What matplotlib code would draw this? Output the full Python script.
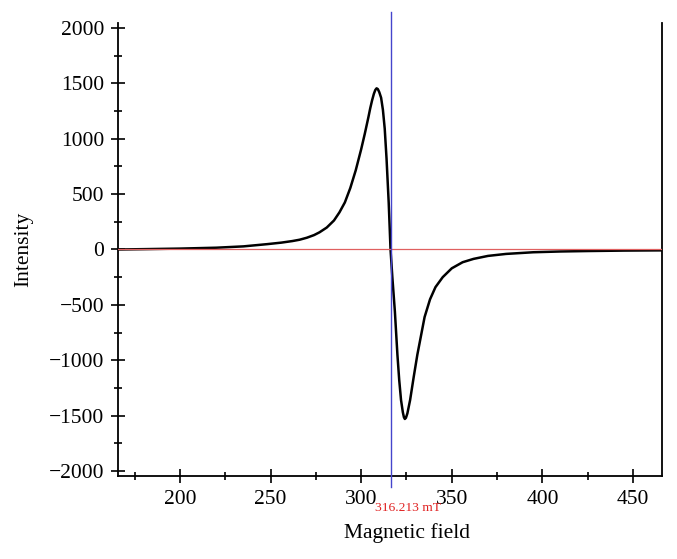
import numpy as np
import matplotlib
matplotlib.use('Agg')
import matplotlib.pyplot as plt
from matplotlib.ticker import MultipleLocator

# EPR spectrum, values
field = [166, 180, 200, 220, 235, 248, 256, 262, 266, 270, 274, 277, 281, 285,
         288, 291, 294, 297, 300, 302, 304, 305, 306, 307, 307.8, 308.5, 309.2,
         310, 311, 312, 313, 314, 315.2, 316.2, 317.2, 318.6, 320, 321, 322, 323,
         323.6, 324.1, 324.7, 325.5, 327, 329, 331, 333, 335, 338, 341, 345,
         350, 356, 362, 370, 380, 395, 410, 425, 445, 466]
intensity = [0, 3, 8, 16, 28, 48, 62, 76, 88, 106, 130, 155, 198, 262,
             335, 425, 555, 715, 905, 1045, 1195, 1275, 1345, 1405, 1440, 1455, 1448,
             1420, 1370, 1260, 1090, 820, 420, 0, -250, -560, -950, -1180, -1360, -1470,
             -1515, -1530, -1520, -1480, -1360, -1150, -950, -780, -610, -450, -340, -250,
             -170, -115, -85, -58, -40, -25, -18, -14, -10, -8]
center_field = 316.213
center_label = '316.213 mT'
x_ticks = [200, 250, 300, 350, 400, 450]
y_ticks = [-2000, -1500, -1000, -500, 0, 500, 1000, 1500, 2000]

plt.rcParams['font.family'] = ['Liberation Serif', 'DejaVu Serif']

fig = plt.figure(figsize=(6.77, 5.59), dpi=100)
ax = fig.add_axes([0.1743, 0.1485, 0.8035, 0.8104])

ax.plot(field, intensity, color='black', lw=1.8, zorder=3,
        solid_joinstyle='round')
ax.axhline(0, color='#e06060', lw=0.9, zorder=4)
ax.axvline(center_field, ymin=-0.024, ymax=1.024, color='#4545cc', lw=1.0,
           clip_on=False, zorder=5)

ax.set_xlim(165.8, 466)
ax.set_ylim(-2045, 2045)
ax.set_xticks(x_ticks)
ax.set_yticks(y_ticks)
ax.xaxis.set_minor_locator(MultipleLocator(25))
ax.yaxis.set_minor_locator(MultipleLocator(250))

ax.spines['top'].set_visible(False)
for s in ['left', 'bottom', 'right']:
    ax.spines[s].set_linewidth(1.3)
ax.tick_params(which='major', direction='inout', length=10, width=1.2,
               labelsize=15.5, pad=5, top=False, right=False)
ax.tick_params(which='minor', direction='inout', length=5.5, width=1.2,
               top=False, right=False)

ax.set_xlabel('Magnetic field', fontsize=15.5)
ax.xaxis.set_label_coords(0.531, -0.103)
ax.set_ylabel('Intensity', fontsize=15.5)
ax.yaxis.set_label_coords(-0.156, 0.5)

ax.annotate(center_label, xy=(center_field, 0),
            xycoords=ax.get_xaxis_transform(),
            xytext=(12.6, -23), textcoords='offset points',
            ha='center', va='center', color='#e02020', fontsize=9.7)

fig.savefig('out.png', dpi=100)
